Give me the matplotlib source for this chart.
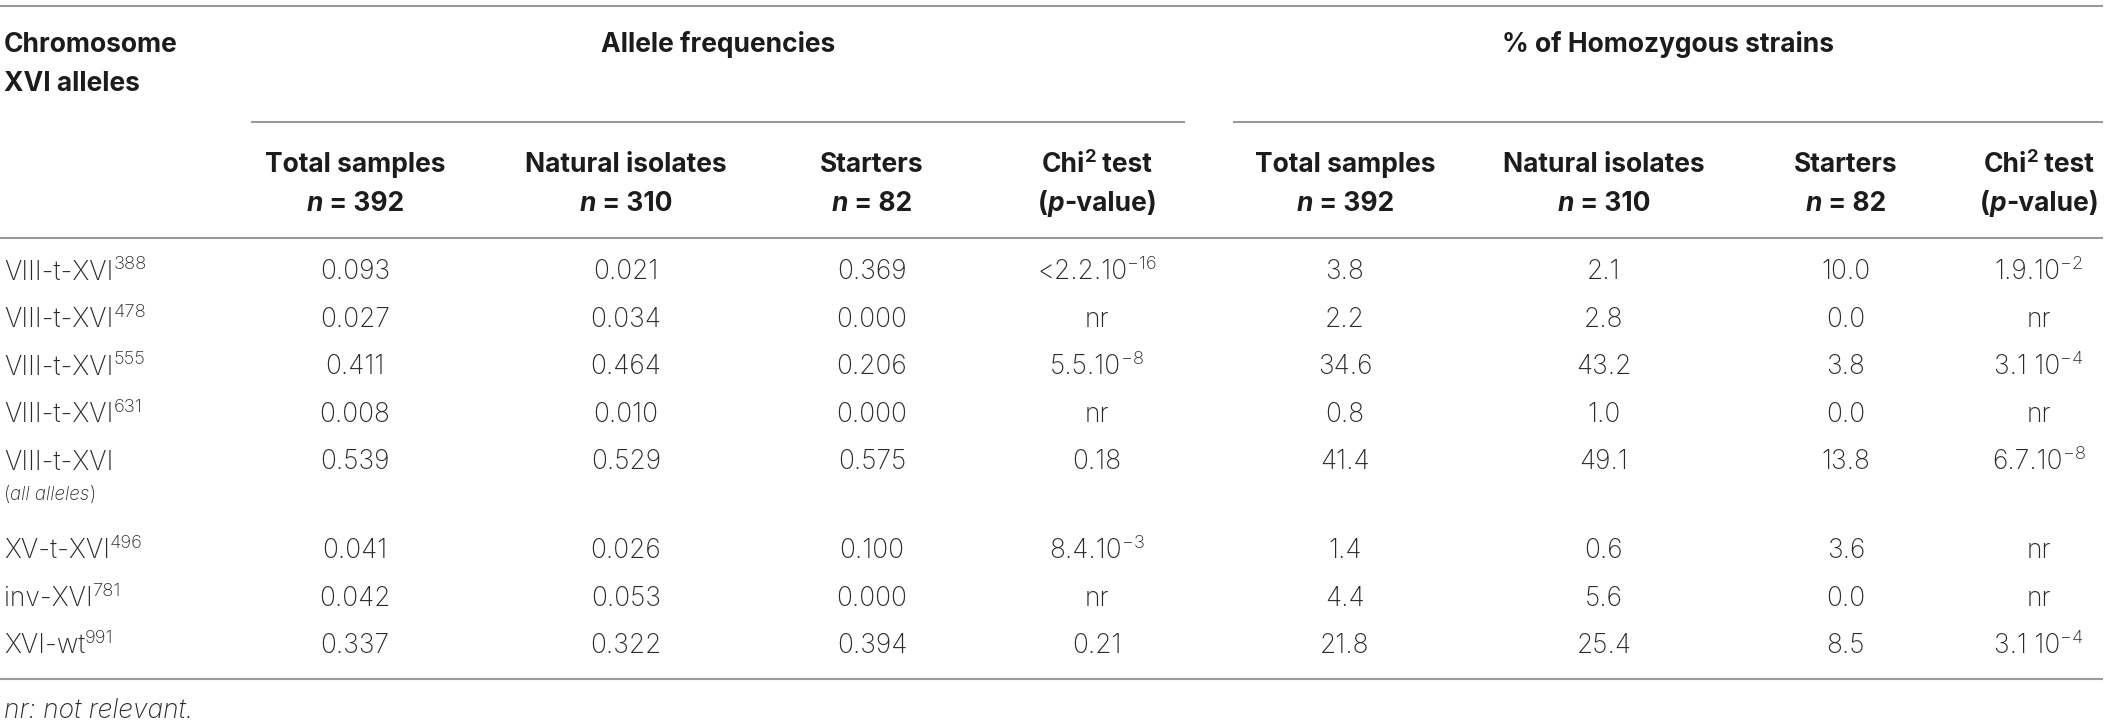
import matplotlib
matplotlib.use("Agg")
import matplotlib.pyplot as plt

# ---------------- data ----------------
allele_names = ["VIII-t-XVI", "VIII-t-XVI", "VIII-t-XVI", "VIII-t-XVI", "VIII-t-XVI",
                "XV-t-XVI", "inv-XVI", "XVI-wt"]
allele_sups = ["388", "478", "555", "631", "", "496", "781", "991"]
af_total = [0.093, 0.027, 0.411, 0.008, 0.539, 0.041, 0.042, 0.337]
af_natural = [0.021, 0.034, 0.464, 0.010, 0.529, 0.026, 0.053, 0.322]
af_starters = [0.369, 0.000, 0.206, 0.000, 0.575, 0.100, 0.000, 0.394]
af_chi2 = ["<2.2.10^−16", "nr", "5.5.10^−8", "nr", "0.18", "8.4.10^−3", "nr", "0.21"]
hz_total = [3.8, 2.2, 34.6, 0.8, 41.4, 1.4, 4.4, 21.8]
hz_natural = [2.1, 2.8, 43.2, 1.0, 49.1, 0.6, 5.6, 25.4]
hz_starters = [10.0, 0.0, 3.8, 0.0, 13.8, 3.6, 0.0, 8.5]
hz_chi2 = ["1.9.10^−2", "nr", "3.1 10^−4", "nr", "6.7.10^−8", "nr", "nr", "3.1 10^−4"]
group_titles = ["Allele frequencies", "% of Homozygous strains"]
col_titles = ["Total samples", "Natural isolates", "Starters", "Chi2"]
col_ns = ["392", "310", "82", ""]
footnote = "nr: not relevant."

# ---------------- layout ----------------
W, H = 2118, 723
FAM = ["Inter", "DejaVu Sans"]
BODY_W = "light"
SIZE = 19
SUP = 0.7
RAISE = 10
TXT = "#2a2a2a"
HDR = "#1c1c1c"
LINE = "#9a9a9a"

fig = plt.figure(figsize=(W / 100, H / 100), dpi=100)
ax = fig.add_axes([0, 0, 1, 1])
ax.set_xlim(0, W)
ax.set_ylim(H, 0)
ax.axis("off")
renderer = fig.canvas.get_renderer()


def measure(s, **kw):
    a = ax.text(0, 0, "x" + s + "x", **kw)
    b = ax.text(0, 0, "xx", **kw)
    w = a.get_window_extent(renderer).width - b.get_window_extent(renderer).width
    a.remove()
    b.remove()
    return w


def rich(x, yc, segs, ha="center", size=SIZE, weight=BODY_W, color=TXT):
    """segs: list of (text, flags) flags may contain 'i' italic, 's' superscript."""
    items = []
    for s, fl in segs:
        fs = size * SUP if "s" in fl else size
        kw = dict(fontsize=fs, fontweight=weight,
                  fontstyle="italic" if "i" in fl else "normal",
                  family=FAM, color=color, va="baseline", ha="left")
        items.append((s, fl, kw, measure(s, **kw)))
    total = sum(it[3] for it in items)
    x0 = x - total / 2 if ha == "center" else x
    base = yc + size * 0.5 * 0.98
    for s, fl, kw, w in items:
        y = base - RAISE * size / SIZE if "s" in fl else base
        ax.text(x0, y, s, **kw)
        x0 += w


def pval(s):
    if "^" in s:
        b, e = s.split("^")
        return [(b, ""), (e, "s")]
    return [(s, "")]


# column centres
cols_left = [355, 626, 872, 1097]
cols_right = [1345, 1604, 1846, 2039]
x_label = 4
row0, pitch = 270, 47.5
row_y = []
for i in range(len(allele_names)):
    extra = 0.87 * pitch if i >= 5 else 0
    row_y.append(row0 + i * pitch + extra)

# lines
ax.plot([0, 2103], [5.5, 5.5], color=LINE, lw=1.5, solid_capstyle="butt")
ax.plot([251, 1185], [122, 122], color=LINE, lw=1.5, solid_capstyle="butt")
ax.plot([1233, 2103], [122, 122], color=LINE, lw=1.5, solid_capstyle="butt")
ax.plot([0, 2103], [237.5, 237.5], color=LINE, lw=1.5, solid_capstyle="butt")
ax.plot([0, 2103], [679, 679], color=LINE, lw=1.5, solid_capstyle="butt")

# header
rich(x_label, 43, [("Chromosome", "")], ha="left", weight="bold", color=HDR)
rich(x_label, 82, [("XVI alleles", "")], ha="left", weight="bold", color=HDR)
rich((251 + 1185) / 2, 43, [(group_titles[0], "")], weight="bold", color=HDR)
rich((1233 + 2103) / 2, 43, [(group_titles[1], "")], weight="bold", color=HDR)
for cols in (cols_left, cols_right):
    for j, cx in enumerate(cols):
        if col_titles[j] == "Chi2":
            rich(cx, 163, [("Chi", ""), ("2", "s"), (" test", "")], weight="bold", color=HDR)
            rich(cx, 202, [("(", ""), ("p", "i"), ("-value)", "")], weight="bold", color=HDR)
        else:
            rich(cx, 163, [(col_titles[j], "")], weight="bold", color=HDR)
            rich(cx, 202, [("n", "i"), (" = " + col_ns[j], "")], weight="bold", color=HDR)

# body
for i, y in enumerate(row_y):
    segs = [(allele_names[i], "")]
    if allele_sups[i]:
        segs.append((allele_sups[i], "s"))
    rich(x_label, y, segs, ha="left")
    if i == 4:
        rich(x_label, y + 33, [("(", ""), ("all alleles", "i"), (")", "")], ha="left", size=13.5)
    rich(cols_left[0], y, [(f"{af_total[i]:.3f}", "")])
    rich(cols_left[1], y, [(f"{af_natural[i]:.3f}", "")])
    rich(cols_left[2], y, [(f"{af_starters[i]:.3f}", "")])
    rich(cols_left[3], y, pval(af_chi2[i]))
    rich(cols_right[0], y, [(f"{hz_total[i]:.1f}", "")])
    rich(cols_right[1], y, [(f"{hz_natural[i]:.1f}", "")])
    rich(cols_right[2], y, [(f"{hz_starters[i]:.1f}", "")])
    rich(cols_right[3], y, pval(hz_chi2[i]))

rich(x_label, 708, [(footnote, "i")], ha="left")

fig.savefig("out.png", dpi=100)
